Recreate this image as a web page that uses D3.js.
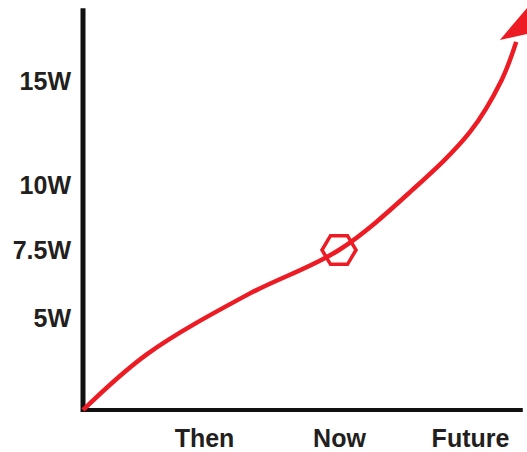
<!DOCTYPE html>
<html>
<body>
    <style>
        body { margin: 0; background: #fff; }
        svg text { font-family: "Liberation Sans", Arial, sans-serif; font-weight: bold; font-size: 25px; fill: #231f20; }
    </style>

    <script src="https://d3js.org/d3.v7.min.js"></script>

    <script>

// categories on the time axis
var timeLabels = ["Then", "Now", "Future"],
    timeVals = [1, 2, 3];

// power ticks
var wattTicks = [5, 7.5, 10, 15];

// growth curve (time, watts)
var curveT = [0, 0.53, 1.32, 2, 2.56, 3, 3.24, 3.35];
var curveW = [0, 3.04, 5.85, 7.5, 9.81, 12.55, 15.05, 16.88];

// marked point
var nowT = 2, nowW = 7.5;

var width = 527,
    height = 452,
    red = "#ed1c24";

var svg = d3.select("body")
    .append("svg")
    .attr("width", width)
    .attr("height", height);

// hand drawn axes are not evenly spaced, so piecewise scales
var x = d3.scaleLinear()
    .domain([0, 1, 2, 3, 3.5])
    .range([83, 204, 339, 470, 536]);

var y = d3.scaleLinear()
    .domain([0, 5, 7.5, 10, 15, 20])
    .range([410, 318, 250, 185, 81, -23]);

svg.append("g")
    .attr("transform", "translate(0," + y(0) + ")")
    .call(d3.axisBottom(x)
        .tickValues(timeVals)
        .tickFormat(function(d, i) { return timeLabels[i]; })
        .tickSize(0)
        .tickPadding(19));

svg.append("g")
    .attr("transform", "translate(" + x(0) + ",0)")
    .call(d3.axisLeft(y)
        .tickValues(wattTicks)
        .tickFormat(function(d) { return d + "W"; })
        .tickSize(0)
        .tickPadding(12));

svg.selectAll(".domain").remove();
svg.selectAll(".tick text").attr("font-size", null).attr("font-family", null).attr("fill", null);

// axis lines
svg.append("line")
    .attr("x1", x(0)).attr("x2", x(0))
    .attr("y1", y(18.5)).attr("y2", y(0) + 2)
    .attr("stroke", "#111")
    .attr("stroke-width", 5);

svg.append("line")
    .attr("x1", x(0) - 2).attr("x2", x(3.4))
    .attr("y1", y(0)).attr("y2", y(0))
    .attr("stroke", "#111")
    .attr("stroke-width", 4);

var pts = curveT.map(function(t, i) { return [x(t), y(curveW[i])]; });

var line = d3.line().curve(d3.curveCatmullRom.alpha(0.5));

svg.append("path")
    .attr("d", line(pts))
    .attr("fill", "none")
    .attr("stroke", red)
    .attr("stroke-width", 4.5);

// arrow head, oriented along the last segment
var end = pts[pts.length - 1],
    prev = pts[pts.length - 2],
    ang = Math.atan2(end[1] - prev[1], end[0] - prev[0]) * 180 / Math.PI;

svg.append("path")
    .attr("d", "M44,1 L-4,-16 L17,16 Z")
    .attr("transform", "translate(" + end[0] + "," + end[1] + ") rotate(" + ang + ")")
    .attr("fill", red);

// hexagon at "now"
var hex = d3.range(6).map(function(i) {
    var a = i * Math.PI / 3;
    return [x(nowT) + 17 * Math.cos(a), y(nowW) + 16.5 * Math.sin(a)];
});

svg.append("polygon")
    .attr("points", hex.map(function(p) { return p.join(","); }).join(" "))
    .attr("fill", "none")
    .attr("stroke", red)
    .attr("stroke-width", 3.5);

    </script>
</body>
</html>
